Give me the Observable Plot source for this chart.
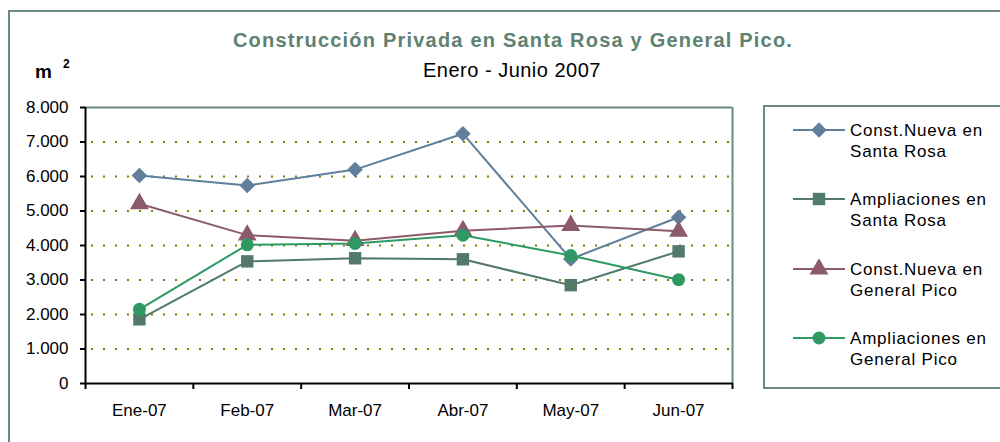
<!DOCTYPE html>
<html>
<head>
<meta charset="utf-8">
<script src="https://cdn.jsdelivr.net/npm/d3@7"></script>
<script src="https://cdn.jsdelivr.net/npm/@observablehq/plot@0.6"></script>
<style>
  html, body { margin: 0; padding: 0; background: #fff; overflow: hidden; }
  body { width: 1000px; height: 442px; position: relative; font-family: "Liberation Sans", Arial, sans-serif; }
  #frame { position: absolute; left: 8px; top: 10px; width: 1100px; height: 600px; border: 2px solid #6b8b7c; box-sizing: border-box; }
  #title { position: absolute; left: 0; width: 1026px; top: 29px; text-align: center; font-weight: bold; font-size: 20px; color: #5d8270; letter-spacing: 1.2px; white-space: nowrap; }
  #subtitle { position: absolute; left: 0; width: 1024px; top: 59px; text-align: center; font-size: 20px; color: #000; letter-spacing: 0.5px; white-space: nowrap; }
  #unit { position: absolute; left: 35px; top: 60px; font-weight: bold; font-size: 19px; color: #000; }
  #unit sup { font-size: 12px; position: relative; top: -3px; margin-left: 11px; }
  #chart { position: absolute; left: 0; top: 0; }
  #legend { position: absolute; left: 763px; top: 105px; width: 300px; height: 284px; border: 2px solid #6b8b7c; box-sizing: border-box; }
  .entry { position: absolute; left: 28px; display: flex; align-items: flex-start; }
  .entry svg { flex: none; margin-top: 0px; }
  .entry .lbl { font-size: 17px; line-height: 21px; color: #000; margin-left: 1px; letter-spacing: 0.8px; white-space: nowrap; }
</style>
</head>
<body>
<div id="frame"></div>
<div id="chart"></div>
<div id="title">Construcción Privada en Santa Rosa y General Pico.</div>
<div id="subtitle">Enero - Junio 2007</div>
<div id="unit">m<sup>2</sup></div>
<div id="legend"></div>
<script>
const months = ["Ene-07", "Feb-07", "Mar-07", "Abr-07", "May-07", "Jun-07"];
const nuevaSantaRosa = [6030, 5740, 6200, 7240, 3610, 4820];
const amplSantaRosa = [1860, 3540, 3630, 3600, 2850, 3830];
const nuevaGeneralPico = [5210, 4300, 4140, 4430, 4580, 4410];
const amplGeneralPico = [2150, 4020, 4060, 4300, 3710, 3010];
const seriesLabels = [
  ["Const.Nueva en", "Santa Rosa"],
  ["Ampliaciones en", "Santa Rosa"],
  ["Const.Nueva en", "General Pico"],
  ["Ampliaciones en", "General Pico"]
];
const seriesColors = ["#5f7f9b", "#53796a", "#8c5a6a", "#2e9963"];
const seriesSymbols = ["diamond2", "square", "triangle", "circle"];
const yTicks = [0, 1000, 2000, 3000, 4000, 5000, 6000, 7000, 8000];

const seriesValues = [nuevaSantaRosa, amplSantaRosa, nuevaGeneralPico, amplGeneralPico];
const series = seriesValues.map((vals, s) => vals.map((v, i) => ({i: i + 0.5, v, s})));
const fmtY = d => d === 0 ? "0" : d3.format(",")(d).replace(/,/g, ".");

const seriesMarks = series.flatMap((data, s) => [
  Plot.line(data, {x: "i", y: "v", stroke: seriesColors[s], strokeWidth: 2}),
  Plot.dot(data, {x: "i", y: "v", fill: seriesColors[s], symbol: seriesSymbols[s], r: s === 3 ? 6.5 : 7, stroke: "none"})
]);

const chart = Plot.plot({
  width: 760,
  height: 442,
  marginLeft: 85,
  marginTop: 107,
  marginRight: 28,
  marginBottom: 59,
  x: {domain: [0, 6]},
  y: {domain: [0, 8000]},
  style: {fontFamily: "'Liberation Sans', Arial, sans-serif", fontSize: "17px", color: "#000", background: "transparent", overflow: "visible"},
  marks: [
    Plot.ruleY(yTicks.filter(d => d > 0 && d < 8000), {y: d => d, stroke: "#7f7f00", strokeWidth: 2, strokeDasharray: "2,10", strokeDashoffset: -6}),
    Plot.ruleY([8000], {stroke: "#6b8b7c", strokeWidth: 2}),
    Plot.ruleX([6], {stroke: "#6b8b7c", strokeWidth: 2}),
    Plot.axisY({ticks: yTicks, tickFormat: fmtY, tickSize: 5, tickPadding: 12, strokeWidth: 2, stroke: "#000", fill: "#000", label: null}),
    Plot.axisX({ticks: [0, 1, 2, 3, 4, 5, 6], tickFormat: () => "", tickSize: 6, strokeWidth: 2, stroke: "#000", label: null}),
    Plot.axisX({ticks: [0.5, 1.5, 2.5, 3.5, 4.5, 5.5], tickFormat: d => months[Math.round(d - 0.5)], tickSize: 0, tickPadding: 20, fill: "#000", label: null}),
    Plot.ruleX([0], {stroke: "#000", strokeWidth: 2}),
    Plot.ruleY([0], {stroke: "#000", strokeWidth: 2}),
    ...seriesMarks
  ]
});
document.getElementById("chart").appendChild(chart);

// legend
const symMap = {diamond2: d3.symbolDiamond2, square: d3.symbolSquare, triangle: d3.symbolTriangle, circle: d3.symbolCircle};
const legend = d3.select("#legend");
seriesLabels.forEach((lines, s) => {
  const e = legend.append("div").attr("class", "entry").style("top", (13 + s * 69.3) + "px");
  const svg = e.append("svg").attr("width", 56).attr("height", 20);
  svg.append("line").attr("x1", 0).attr("x2", 52).attr("y1", 10).attr("y2", 10).attr("stroke", seriesColors[s]).attr("stroke-width", 2);
  const r = s === 3 ? 6.5 : 7;
  svg.append("path").attr("transform", "translate(26,10)").attr("d", d3.symbol(symMap[seriesSymbols[s]], Math.PI * r * r)()).attr("fill", seriesColors[s]);
  e.append("div").attr("class", "lbl").html(lines.join("<br>"));
});
</script>
</body>
</html>
